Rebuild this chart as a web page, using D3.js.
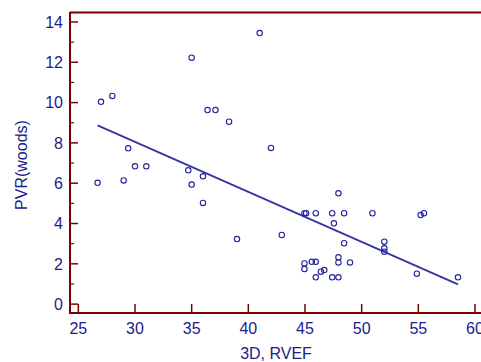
<!DOCTYPE html>
<html>
<head>
<meta charset="utf-8">
<script src="https://cdn.jsdelivr.net/npm/d3@7"></script>
<style>
  body { margin: 0; background: #fff; }
  svg text { font-family: "Liberation Sans", Arial, sans-serif; fill: #1c1c8c; }
</style>
</head>
<body>
<svg id="chart" width="481" height="362"></svg>
<script>
// RVEF (3D) vs PVR
var rvef = [26.7, 27.0, 28.0, 29.0, 29.4, 30.0, 31.0, 34.7, 35.0, 35.0, 36.0, 36.0,
  36.4, 37.1, 38.3, 41.0, 42.0, 39.0, 42.95,
  44.95, 45.1, 45.95, 47.4, 48.45, 50.95, 55.2, 55.5, 47.95, 47.55,
  48.45, 52.0, 52.0, 52.0, 47.95, 47.95, 48.97,
  44.95, 44.95, 45.6, 45.95, 46.7, 46.4, 45.95, 47.4, 47.95, 54.87, 58.5];
var pvr = [6.02, 10.04, 10.33, 6.14, 7.73, 6.84, 6.84, 6.64, 12.23, 5.93, 6.34, 5.02,
  9.63, 9.63, 9.05, 13.45, 7.75, 3.23, 3.43,
  4.51, 4.51, 4.51, 4.51, 4.51, 4.51, 4.42, 4.51, 5.50, 4.01,
  3.02, 3.10, 2.77, 2.60, 2.32, 2.07, 2.07,
  2.02, 1.74, 2.10, 2.10, 1.69, 1.61, 1.33, 1.33, 1.33, 1.51, 1.33];

// regression line as drawn: PVR = a + b * RVEF
var fitIntercept = 15.49;
var fitSlope = -0.248;

var xTicks = [25, 30, 35, 40, 45, 50, 55, 60];
var yTicks = [0, 2, 4, 6, 8, 10, 12, 14];
var yMinor = [1, 3, 5, 7, 9, 11, 13];

var axisColor = "#7a0000";
var markColor = "#24249a";

var svg = d3.select("#chart");

var x = d3.scaleLinear().domain([24.265, 60.53]).range([70, 481]);
var y = d3.scaleLinear().domain([-0.44, 14.47]).range([313, 12.5]);

// frame: top and left lines + bottom axis
svg.append("line")
  .attr("x1", 70).attr("x2", 481)
  .attr("y1", 12.5).attr("y2", 12.5)
  .attr("stroke", axisColor).attr("stroke-width", 2);

svg.append("line")
  .attr("x1", 70).attr("x2", 70)
  .attr("y1", 12).attr("y2", 313)
  .attr("stroke", axisColor).attr("stroke-width", 2);

svg.append("line")
  .attr("x1", 69).attr("x2", 481)
  .attr("y1", 313).attr("y2", 313)
  .attr("stroke", axisColor).attr("stroke-width", 2);

// y ticks (inside, pointing right)
svg.selectAll(".ytick").data(yTicks).enter().append("line")
  .attr("x1", 70).attr("x2", 78)
  .attr("y1", d => y(d)).attr("y2", d => y(d))
  .attr("stroke", axisColor).attr("stroke-width", 1.5);

svg.selectAll(".ymin").data(yMinor).enter().append("line")
  .attr("x1", 70).attr("x2", 74)
  .attr("y1", d => y(d)).attr("y2", d => y(d))
  .attr("stroke", axisColor).attr("stroke-width", 1.2);

svg.selectAll(".ylab").data(yTicks).enter().append("text")
  .attr("x", 63).attr("y", d => y(d))
  .attr("dy", "0.36em")
  .attr("text-anchor", "end")
  .style("font-size", "16px")
  .text(d => d);

// x ticks (inside, pointing up)
svg.selectAll(".xtick").data(xTicks).enter().append("line")
  .attr("x1", d => x(d)).attr("x2", d => x(d))
  .attr("y1", 313).attr("y2", 304)
  .attr("stroke", axisColor).attr("stroke-width", 1.5);

svg.selectAll(".xlab").data(xTicks).enter().append("text")
  .attr("x", d => x(d)).attr("y", 334)
  .attr("text-anchor", "middle")
  .style("font-size", "16px")
  .text(d => d);

// axis titles
svg.append("text")
  .attr("x", 276).attr("y", 359)
  .attr("text-anchor", "middle")
  .style("font-size", "16px")
  .text("3D, RVEF");

svg.append("text")
  .attr("transform", "translate(27,165) rotate(-90)")
  .attr("text-anchor", "middle")
  .style("font-size", "16px")
  .text("PVR(woods)");

// regression line across the data range
var xMin = d3.min(rvef), xMax = d3.max(rvef);
svg.append("line")
  .attr("x1", x(xMin)).attr("y1", y(fitIntercept + fitSlope * xMin))
  .attr("x2", x(xMax)).attr("y2", y(fitIntercept + fitSlope * xMax))
  .attr("stroke", "#3535a0").attr("stroke-width", 1.8);

// points
svg.selectAll(".pt").data(rvef).enter().append("circle")
  .attr("cx", d => x(d))
  .attr("cy", (d, i) => y(pvr[i]))
  .attr("r", 2.7)
  .attr("fill", "none")
  .attr("stroke", markColor)
  .attr("stroke-width", 1.1);
</script>
</body>
</html>
